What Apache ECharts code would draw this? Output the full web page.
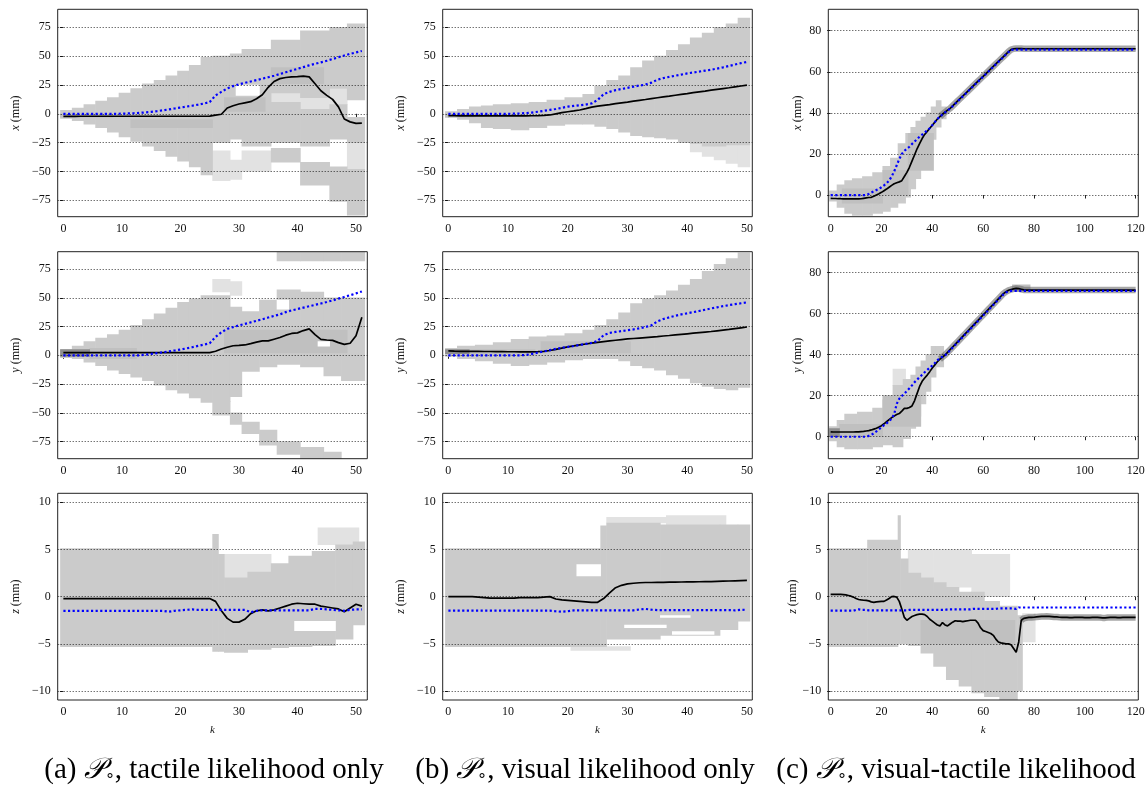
<!DOCTYPE html>
<html>
<head>
<meta charset="utf-8">
<script src="https://cdn.jsdelivr.net/npm/echarts@6/dist/echarts.min.js"></script>
<style>
  html, body { margin: 0; padding: 0; background: #ffffff; }
  #chart { width: 1147px; height: 788px; }
</style>
</head>
<body>
<div id="chart"></div>
<script>
// ---- tick labels -------------------------------------------------------
const kTicksShort = [0, 10, 20, 30, 40, 50];
const kTicksLong = [0, 20, 40, 60, 80, 100, 120];
const posTicksWide = [-75, -50, -25, 0, 25, 50, 75];
const posTicksCombined = [0, 20, 40, 60, 80];
const zTicks = [-10, -5, 0, 5, 10];

// ---- (a) tactile likelihood only, k = 0..51 ----------------------------
const xMeanTactile = [-2.2,-2.2,-2.2,-2.1,-2.1,-2.1,-2.1,-2.1,-2.1,-2.1,-2.1,-2.1,-2.1,-2.1,-2.1,-2.1,-2.1,-2.1,-2.1,-2.1,-2.1,-2.1,-2.1,-2.1,-2.1,-2.0,
  -1.2,-0.4,5,7,8.5,9.5,10.5,13,16.5,23,28,30.5,31.5,32,32.3,32.7,32,26,20,16,12.5,6,-4.5,-7,-8.3,-8.1];
const xTruthTactile = [0,0,0,0,0,0,0,0,0,0,0.1,0.3,0.5,0.8,1.2,1.7,2.3,3,3.8,4.6,5.4,6.2,7,7.9,8.9,10.2,
  16,19,22,24,25.5,26.8,28,29.2,30.5,31.7,33,34.5,36,37.5,39,40.5,42,43.3,44.6,46,47.5,49,50.5,52,53.2,54.5];
const yMeanTactile = [2.3,2.3,2.3,2.3,2.3,2.3,2.3,2.3,2.3,2.3,2.3,2.3,2.3,2.3,2.3,2.3,2.3,2.3,2.3,2.3,2.3,2.3,2.3,2.3,2.3,2.3,
  3.5,5.5,7,8.3,8.6,9,10.2,11.5,12.5,12.5,14,15.5,17.5,19,19.5,21.5,23,18,13.8,13.3,13,11,9.5,10.5,17,33];
const yTruthTactile = [0,0,0,0,0,0,0,0,0,0,0,0,0,0,0.5,1.2,1.9,2.6,3.4,4.2,5,6,7,8.2,9.3,10.5,
  16,20,23,24.5,26,27.3,28.6,30,31.3,32.8,34.2,35.6,37.5,39,40.2,41.4,42.6,43.8,45,46.3,47.7,49.2,50.7,52.2,53.8,55.5];
const zMeanTactile = [-0.2,-0.2,-0.2,-0.2,-0.2,-0.2,-0.2,-0.2,-0.2,-0.2,-0.2,-0.2,-0.2,-0.2,-0.2,-0.2,-0.2,-0.2,-0.2,-0.2,-0.2,-0.2,-0.2,-0.2,-0.2,-0.2,
  -0.5,-1.5,-2.3,-2.7,-2.7,-2.4,-1.8,-1.5,-1.4,-1.5,-1.4,-1.2,-1.0,-0.8,-0.7,-0.75,-0.8,-0.8,-1.0,-1.1,-1.2,-1.3,-1.6,-1.2,-0.8,-1.0];
const zTruthTactile = [-1.5,-1.5,-1.5,-1.5,-1.5,-1.5,-1.5,-1.5,-1.5,-1.5,-1.5,-1.5,-1.5,-1.5,-1.5,-1.5,-1.5,-1.5,
  -1.6,-1.5,-1.45,-1.4,-1.35,-1.4,-1.4,-1.4,-1.4,-1.4,-1.4,-1.4,-1.4,-1.4,-1.65,-1.5,
  -1.45,-1.45,-1.45,-1.45,-1.45,-1.45,-1.45,-1.45,-1.45,-1.3,-1.3,-1.35,-1.4,-1.45,-1.5,-1.4,-1.35,-1.35];

// ---- (b) visual likelihood only, k = 0..50 -----------------------------
const xMeanVisual = [-1.7,-1.7,-1.8,-1.8,-1.8,-1.8,-1.8,-1.8,-1.8,-1.8,-1.8,-1.8,-1.8,-1.8,-1.7,
  -1.6,-1.4,-1.0,0,1,1.8,2.5,3.3,4.5,5.8,6.6,
  7.3,8.0,8.8,9.5,10.2,11.0,11.7,12.4,13.2,13.9,14.6,15.3,16.1,16.8,17.5,18.3,19,19.7,20.5,21.2,21.9,22.6,23.4,24.1,24.8];
const xTruthVisual = [0,0,0,0,0,0,0,0,0,0,0,
  0.1,0.3,0.6,1.1,1.8,2.6,3.4,4.2,5.2,6.2,6.8,7.4,8.0,9,12,17,19,20.5,21.5,22.5,23.5,24.5,25.3,27,29.5,
  31,32,33,34,35,35.8,36.6,37.4,38.2,39.2,40.3,41.5,42.7,43.9,45];
const yMeanVisual = [3.8,3.6,3.5,3.5,3.4,3.4,3.3,3.3,3.2,3.2,3.1,3.1,3.0,3.0,3.0,
  3.2,3.5,4.2,5.2,6.3,7.3,8.2,9,9.8,10.6,11.3,
  11.9,12.5,13.1,13.7,14.2,14.6,15.0,15.4,15.8,16.2,16.8,17.2,17.7,18.2,18.7,19.2,19.7,20.2,20.7,21.3,21.9,22.5,23.2,23.9,24.6];
const yTruthVisual = [0,0,0,0,0,0,0,0,0,0,0,0,0,
  0.3,1.2,2.4,3.4,4.5,5.6,6.5,7.3,8.1,9,9.9,10.8,12.5,
  17.5,19.5,20.3,21,21.8,22.5,23.5,24.6,26,29.5,31.5,33,34.3,35.5,36.5,37.5,38.5,39.6,40.7,41.7,42.7,43.6,44.4,45.2,46];
const zMeanVisual = [0,0,0,0,0,-0.05,-0.1,-0.15,-0.15,-0.15,-0.15,-0.15,-0.1,-0.1,-0.1,-0.1,-0.05,0,
  -0.25,-0.35,-0.4,-0.45,-0.5,-0.55,-0.6,-0.6,-0.2,
  0.4,0.95,1.2,1.35,1.42,1.47,1.5,1.5,1.52,1.52,1.53,1.54,1.55,1.56,1.57,1.58,1.59,1.6,1.62,1.64,1.66,1.68,1.7,1.72];
const zTruthVisual = [-1.48,-1.48,-1.48,-1.48,-1.48,-1.48,-1.48,-1.48,-1.48,-1.48,-1.48,-1.48,-1.48,-1.48,-1.48,-1.48,-1.48,-1.48,
  -1.55,-1.6,-1.55,-1.45,-1.45,-1.45,-1.45,-1.45,-1.45,-1.45,-1.45,-1.45,-1.45,-1.45,
  -1.35,-1.3,-1.38,-1.42,-1.42,-1.42,-1.42,-1.42,-1.42,-1.42,-1.42,-1.42,-1.42,-1.42,-1.42,-1.42,-1.45,-1.4,-1.38];

// ---- (c) visual-tactile likelihood, k = 0..120 -------------------------
const xMeanCombined = [-1.6,-1.7,-1.7,-1.8,-1.8,-1.9,-1.9,-1.9,-1.9,-1.9,-1.9,-1.9,-1.8,-1.6,-1.4,-1.2,
  -1.1,-0.6,0,0.6,1.3,2.1,2.9,3.8,4.7,5.5,6,6.4,7,9,11,13.5,16.5,19.5,22.5,25,27.5,29.5,31,32.5,34,35.5,37,38.2,39.3,40.3,41.3,42.2,
  43.4,44.6,45.8,47,48.2,49.4,50.6,51.8,53,54.2,55.4,56.6,57.8,59,60.2,61.4,62.6,63.8,65,66.2,67.4,68.6,69.8,70.8,
  71.2,71.3,71.3,71.3,71.2,71.2,71.2,71.2,71.2,71.2,71.2,71.2,71.2,71.2,71.2,71.2,71.2,71.2,71.2,71.2,
  71.2,71.2,71.2,71.2,71.2,71.2,71.2,71.2,71.2,71.2,71.2,71.2,71.2,71.2,71.2,71.2,71.2,71.2,71.2,71.2,
  71.2,71.2,71.2,71.2,71.2,71.2,71.2,71.2,71.2];
const xTruthCombined = [0,0,0,0,0,0,0,0,0,0,0,0,0,0,0,
  0.5,1.2,1.8,2.4,3,3.8,4.7,5.7,7,9,11.5,14.5,17.5,20,21.5,22.5,23.5,24.8,26,27.2,28.4,29.4,30.4,31.5,32.5,34,35.5,37,38.2,
  39.2,40.2,41.1,42,43.2,44.4,45.6,46.8,48,49.2,50.4,51.6,52.8,54,55.2,56.4,57.6,58.8,60,61.2,62.4,63.6,64.8,66,67.2,68.4,69.6,70.6,
  70.8,70.8,70.8,70.8,70.8,70.8,70.8,70.8,70.8,70.8,70.8,70.8,70.8,70.8,70.8,70.8,70.8,70.8,70.8,70.8,
  70.8,70.8,70.8,70.8,70.8,70.8,70.8,70.8,70.8,70.8,70.8,70.8,70.8,70.8,70.8,70.8,70.8,70.8,70.8,70.8,
  70.8,70.8,70.8,70.8,70.8,70.8,70.8,70.8,70.8];
const yMeanCombined = [2.4,2.3,2.3,2.3,2.3,2.3,2.3,2.3,2.3,2.3,2.4,2.4,2.5,
  2.6,2.8,3.0,3.3,3.7,4.1,4.7,5.4,6.3,7.3,8.3,9.3,10.1,10.8,11.3,12.5,13.8,13.8,14.2,15,17.5,21,24.5,27,28.6,30,31.7,33.5,35,36.5,37.8,38.8,39.8,
  41.1,42.4,43.7,45,46.3,47.6,48.9,50.2,51.5,52.8,54.1,55.4,56.7,58,59.3,60.6,61.9,63.2,64.5,65.8,67.1,68.4,69.7,70.6,71.3,71.7,72,72.2,72.1,71.8,71.5,
  71.4,71.4,71.4,71.4,71.4,71.4,71.4,71.4,71.4,71.4,71.4,71.4,71.4,71.4,71.4,71.4,71.4,71.4,71.4,71.4,71.4,71.4,
  71.4,71.4,71.4,71.4,71.4,71.4,71.4,71.4,71.4,71.4,71.4,71.4,71.4,71.4,71.4,71.4,71.4,71.4,71.4,71.4,71.4,71.4];
const yTruthCombined = [0,0,0,0,0,0,0,0,0,0,0,0,0,0,0,
  0.4,0.9,1.7,2.6,3.6,4.6,5.6,6.5,7.6,8.8,11,16,18.5,19.8,21,22.3,23.6,25,26.5,27.8,29,30.2,31.4,32.5,33.6,34.7,35.9,37.2,38.3,
  38.9,39.6,40.8,42.1,43.4,44.7,46,47.3,48.6,49.9,51.2,52.5,53.8,55.1,56.4,57.7,59,60.3,61.6,62.9,64.2,65.5,66.8,68.1,69.3,70.3,
  70.8,71,71,71,71,71,71,71,71,71,71,71,71,71,71,71,71,71,71,71,71,71,71,71,71,
  71,71,71,71,71,71,71,71,71,71,71,71,71,71,71,71,71,71,71,71,71,71,71,71,71,71];
const zMeanCombined = [0.25,0.25,0.25,0.25,0.25,0.22,0.18,0.12,0.05,-0.05,-0.2,-0.3,-0.35,-0.38,-0.4,-0.45,-0.55,-0.6,-0.55,-0.52,-0.5,-0.5,-0.35,-0.2,0,0.02,-0.05,
  -0.5,-1.3,-2.2,-2.5,-2.3,-2.1,-2.0,-1.9,-1.85,-1.85,-1.9,-2.1,-2.4,-2.6,-2.8,-3.0,-3.1,-2.75,-3.0,-3.1,-2.9,-2.7,-2.55,-2.6,
  -2.6,-2.65,-2.6,-2.55,-2.5,-2.5,-2.5,-2.8,-3.3,-3.6,-3.7,-3.8,-3.9,-4.1,-4.5,-4.8,-4.9,-4.95,-5.0,-5.0,-5.1,-5.5,-5.9,-4.8,-2.5,-2.3,-2.25,
  -2.2,-2.2,-2.18,-2.15,-2.12,-2.1,-2.1,-2.08,-2.1,-2.12,-2.15,-2.15,-2.18,-2.2,-2.2,-2.2,-2.22,-2.22,-2.2,-2.2,-2.2,-2.2,
  -2.22,-2.22,-2.22,-2.2,-2.2,-2.2,-2.22,-2.25,-2.25,-2.22,-2.2,-2.2,-2.2,-2.22,-2.22,-2.2,-2.2,-2.2,-2.2,-2.2,-2.2];
const zTruthCombined = [-1.48,-1.48,-1.48,-1.48,-1.48,-1.48,-1.48,-1.48,-1.48,-1.48,-1.4,-1.35,-1.4,-1.4,-1.4,
  -1.45,-1.45,-1.45,-1.45,-1.45,-1.45,-1.45,-1.45,-1.45,-1.45,-1.45,-1.45,-1.45,-1.45,-1.45,-1.45,
  -1.4,-1.4,-1.4,-1.4,-1.4,-1.4,-1.4,-1.4,-1.4,-1.4,-1.4,-1.4,-1.4,-1.4,-1.4,
  -1.35,-1.35,-1.35,-1.35,-1.35,-1.35,-1.35,-1.35,-1.35,-1.35,
  -1.3,-1.3,-1.3,-1.3,-1.3,-1.3,-1.3,-1.3,-1.3,-1.3,
  -1.25,-1.25,-1.25,-1.25,-1.25,-1.25,-1.25,-1.3,
  -1.15,-1.15,-1.15,-1.15,-1.15,-1.15,-1.15,-1.15,-1.15,-1.15,-1.15,-1.15,-1.15,-1.15,-1.15,-1.15,
  -1.15,-1.15,-1.15,-1.15,-1.15,-1.15,-1.15,-1.15,-1.15,-1.15,-1.15,-1.15,-1.15,-1.15,-1.15,-1.15,
  -1.15,-1.15,-1.15,-1.15,-1.15,-1.15,-1.15,-1.15,-1.15,-1.15,-1.15,-1.15,-1.15,-1.15,-1.15];

// ---- particle-density cells: [kFrom, kTo, low, high, shade] ---------------
// shade: 0 light, 1 medium, 2 dark, 3 sparse, 4 empty
const xCellsTactile = [
  [0,1,-4,3,0],[2,3,-6,5,0],[4,5,-9,8,0],[6,7,-12,11,0],[8,9,-16,14,0],[10,11,-20,18,0],[12,13,-24,22,0],
  [14,15,-28,26,0],[16,17,-32,29,0],[18,19,-37,33,0],[20,21,-41,37,0],[22,23,-46,42,0],[24,25,-53,49,0],
  [26,28,-58,-32,3],[26,28,-25,50,0],[29,30,-57,-40,3],[29,30,-22,52,0],
  [31,35,-28,56,0],[31,35,-50,-32,3],
  [36,40,18,64,0],[36,40,-25,10,0],[36,40,-42,-30,0],[36,40,10,18,3],
  [41,45,14,72,0],[41,45,-28,4,0],[41,45,-62,-42,0],[41,45,4,14,3],
  [46,48,22,75,0],[46,48,-22,8,0],[46,48,-76,-46,0],[46,48,8,22,3],
  [49,51,12,78,0],[49,51,-25,-3,0],[49,51,-88,-48,0],[49,51,-48,-25,3],
  [0,8,-3,0,1],[12,25,-12,-5,1],[28,34,2,14,1],[36,44,26,40,1],
  [30,33,16,25,4]
];
const yCellsTactile = [
  [0,1,-2,5,0],[2,3,-3,8,0],[4,5,-6,12,0],[6,7,-9,15,0],[8,9,-13,18,0],[10,11,-16,22,0],[12,13,-19,26,0],
  [14,15,-22,31,0],[16,17,-26,36,0],[18,19,-30,41,0],[20,21,-33,46,0],[22,23,-37,49,0],[24,25,-41,52,0],
  [26,28,-40,52,0],[26,28,-52,-40,0],[26,28,55,66,3],
  [29,30,-36,42,0],[29,30,-60,-50,0],[29,30,52,64,3],
  [31,33,-14,38,0],[31,33,-68,-58,0],
  [34,36,-10,48,0],[34,36,-78,-65,0],
  [37,40,-8,57,0],[37,40,-86,-75,0],[37,40,82,90,0],
  [41,44,-10,55,0],[41,44,-90,-80,0],[41,44,82,90,0],
  [45,47,-18,50,0],[45,47,-90,-84,0],[45,47,82,90,0],
  [48,51,-22,50,0],[48,51,82,90,0],
  [0,4,-1,5,2],[5,12,-3,6,1],[28,48,2,22,1],
  [37,38,40,48,4],[44,45,8,12,4]
];
const zCellsTactile = [
  [0,25,-5.3,5.1,0],[26,26,-5.8,6.6,0],[27,27,-5.8,4.5,0],[28,31,-5.9,2.0,0],[32,35,-5.6,2.6,0],
  [36,38,-5.4,3.5,0],[39,42,-5.3,4.3,0],[43,46,-5.2,4.8,0],[47,49,-4.5,5.5,0],[50,51,-3,5.8,0],
  [28,35,2,4.5,3],[44,50,5.5,7.3,3],
  [40,46,-3.6,-2.6,4]
];
const xCellsVisual = [
  [0,1,-3,2,0],[2,3,-5,4,0],[4,5,-8,6,0],[6,7,-12,7,0],[8,10,-13,8,0],[11,13,-14,9,0],[14,16,-12,10,0],
  [17,19,-10,12,0],[20,22,-9,14,0],[23,24,-9,17,0],[25,26,-11,24,0],[27,28,-13,29,0],[29,30,-16,33,0],
  [31,32,-19,40,0],[33,34,-20,46,0],[35,36,-21,50,0],[37,38,-22,55,0],[39,40,-25,60,0],
  [41,42,-26,66,0],[41,42,-33,-26,3],[43,44,-28,70,0],[43,44,-37,-28,3],[45,46,-28,75,0],[45,46,-40,-28,3],
  [47,48,-27,78,0],[47,48,-43,-27,3],[49,50,-27,83,0],[49,50,-46,-27,3],
  [0,4,-3,0,1]
];
const yCellsVisual = [
  [0,1,-1,6,0],[2,4,-3,8,0],[5,7,-5,9,0],[8,10,-7,11,0],[11,13,-9,14,0],[14,16,-8,16,0],[17,19,-6,17,0],
  [20,22,-4,19,0],[23,24,-3,22,0],[25,26,-3,26,0],[27,28,-3,31,0],[29,30,-5,37,0],[31,32,-9,45,0],
  [33,34,-11,49,0],[35,36,-13,52,0],[37,38,-17,56,0],[39,40,-20,61,0],[41,42,-24,66,0],[43,44,-27,73,0],
  [45,46,-29,79,0],[47,48,-30,84,0],[49,50,-28,89,0],
  [0,3,1.5,5,2],[4,14,0,5,1],[16,30,2,12,1]
];
const zCellsVisual = [
  [0,25,-5.3,5.1,0],[26,26,-5.3,7.5,0],[27,35,-4.5,7.8,0],[36,45,-4.1,7.6,0],[46,48,-3.5,7.6,0],[49,50,-2.6,7.6,0],
  [21,30,-5.7,-5.3,3],[27,36,7.8,8.4,3],[37,46,7.6,8.6,3],
  [22,25,2.2,3.4,4],[30,36,-3.3,-3.0,4],[38,44,-4.0,-3.7,4],[36,40,-2.2,-2.0,4]
];
const xCellsCombined = [
  [0,2,-3,2,0],[3,5,-6,5,0],[6,8,-9,7,0],[9,12,-10,8,0],[13,16,-10,9,0],[17,20,-9,11,0],[21,23,-8,14,0],
  [24,26,-6,18,0],[27,29,-4,25,0],[30,31,-1,30,0],[32,33,3,33,0],[34,35,8,36,0],[36,37,13,38,0],
  [38,39,20,40,0],[40,41,27,43,0],[42,43,33,46,0],[44,45,37,43,0],
  [5,20,-4,3,1],[21,30,0,12,1],[31,40,12,30,1]
];
const yCellsCombined = [
  [0,2,-2,5,0],[3,5,-5,8,0],[6,10,-6,11,0],[11,16,-6,12,0],[17,20,-5,14,0],[21,24,-4,18,0],[25,28,-5,25,0],
  [29,31,-1,28,0],[32,33,4,30,0],[34,35,10,34,0],[36,37,16,37,0],[38,39,22,40,0],[40,41,29,44,0],[42,44,34,44,0],
  [25,29,25,33,3],
  [0,3,0,4,2],[4,20,0,6,1],[21,35,5,20,1],[72,78,71,74,1]
];
const zCellsCombined = [
  [0,14,-5.3,5.1,0],[15,26,-5.3,6,0],[27,27,-5,8.6,0],[28,30,-5,4,0],[31,35,-5.2,2.5,0],[36,40,-6,2,0],
  [41,45,-7.4,1.5,0],[46,50,-8.8,1.0,0],[51,55,-9.5,0.5,0],[56,60,-10.2,0.5,0],[61,66,-10.6,-0.5,0],
  [67,73,-11,-1,0],[74,75,-10,-2,0],
  [31,40,2,5,3],[41,55,1,5,3],[56,70,0,4.5,3],[76,80,-4.8,-1.8,3],
  [36,72,-5,-2.5,1]
];

// ---- layout ------------------------------------------------------------
const LEFT = [57.7, 442.7, 828.3], WIDTH = [309.6, 309.6, 310];
const TOP = [9.3, 251.7, 493.3], HEIGHT = [207.4, 207, 206.7];
const X_RANGE = [[-0.97, 51.93], [-0.95, 50.9], [-0.92, 121.05]];
const X_TICKS = [kTicksShort, kTicksShort, kTicksLong];
const SHADE = ['#cbcbcb', '#c0c0c0', '#8e8e8e', '#e2e2e2', '#ffffff'];
const DRAW_ORDER = {3: 0, 0: 1, 1: 2, 2: 3, 4: 4};
const TICK_FONT = 'Liberation Serif';

const panels = [
  {row:0, col:0, mean:xMeanTactile,  truth:xTruthTactile,  cells:xCellsTactile,  axis:'x', yTicks:posTicksWide,     yRange:[-89.2, 90.6]},
  {row:0, col:1, mean:xMeanVisual,   truth:xTruthVisual,   cells:xCellsVisual,   axis:'x', yTicks:posTicksWide,     yRange:[-89.2, 90.6]},
  {row:0, col:2, mean:xMeanCombined, truth:xTruthCombined, cells:xCellsCombined, axis:'x', yTicks:posTicksCombined, yRange:[-10.55, 90.4], haloFrom:43},
  {row:1, col:0, mean:yMeanTactile,  truth:yTruthTactile,  cells:yCellsTactile,  axis:'y', yTicks:posTicksWide,     yRange:[-89.8, 90]},
  {row:1, col:1, mean:yMeanVisual,   truth:yTruthVisual,   cells:yCellsVisual,   axis:'y', yTicks:posTicksWide,     yRange:[-89.8, 90]},
  {row:1, col:2, mean:yMeanCombined, truth:yTruthCombined, cells:yCellsCombined, axis:'y', yTicks:posTicksCombined, yRange:[-10.7, 90.1], haloFrom:43},
  {row:2, col:0, mean:zMeanTactile,  truth:zTruthTactile,  cells:zCellsTactile,  axis:'z', yTicks:zTicks,           yRange:[-10.95, 10.95]},
  {row:2, col:1, mean:zMeanVisual,   truth:zTruthVisual,   cells:zCellsVisual,   axis:'z', yTicks:zTicks,           yRange:[-10.95, 10.95]},
  {row:2, col:2, mean:zMeanCombined, truth:zTruthCombined, cells:zCellsCombined, axis:'z', yTicks:zTicks,           yRange:[-10.95, 10.95], haloFrom:75}
];

const fmt = v => String(v).replace('-', '\u2212');

const grids = [], xAxes = [], yAxes = [], series = [], frames = [];
panels.forEach((p, i) => {
  grids.push({left: LEFT[p.col], top: TOP[p.row], width: WIDTH[p.col], height: HEIGHT[p.row],
              containLabel: false, outerBoundsMode: 'none'});
  xAxes.push({
    type: 'value', gridIndex: i, min: X_RANGE[p.col][0], max: X_RANGE[p.col][1],
    axisLine: {show: false}, splitLine: {show: false},
    axisTick: {show: true, customValues: X_TICKS[p.col], length: 3.5, lineStyle: {color: '#222', width: 1}},
    axisLabel: {customValues: X_TICKS[p.col], formatter: fmt, margin: 6, fontFamily: TICK_FONT, fontSize: 12, color: '#111'},
    name: p.row === 2 ? 'k' : '', nameLocation: 'middle', nameGap: 25,
    nameTextStyle: {fontFamily: TICK_FONT, fontStyle: 'italic', fontSize: 11, color: '#111'}
  });
  yAxes.push({
    type: 'value', gridIndex: i, min: p.yRange[0], max: p.yRange[1],
    axisLine: {show: false}, splitLine: {show: false},
    axisTick: {show: true, customValues: p.yTicks, length: 3.5, lineStyle: {color: '#222', width: 1}},
    axisLabel: {customValues: p.yTicks, formatter: fmt, margin: 7, fontFamily: TICK_FONT, fontSize: 12, color: '#111'},
    name: '{i|' + p.axis + '} (mm)', nameLocation: 'middle', nameRotate: 90,
    nameGap: p.col === 2 ? 24 : 36,
    nameTextStyle: {fontFamily: TICK_FONT, fontSize: 12, color: '#111',
                    rich: {i: {fontFamily: TICK_FONT, fontStyle: 'italic', fontSize: 12, color: '#111'}}}
  });

  const cells = p.cells.slice().sort((a, b) => DRAW_ORDER[a[4]] - DRAW_ORDER[b[4]]);
  series.push({
    type: 'custom', xAxisIndex: i, yAxisIndex: i, z: 1, clip: true, silent: true,
    data: cells,
    encode: {x: [0, 1], y: [2, 3]},
    renderItem: (params, api) => {
      const a = api.coord([api.value(0) - 0.5, api.value(3)]);
      const b = api.coord([api.value(1) + 0.5, api.value(2)]);
      return {type: 'rect',
              shape: {x: a[0] - 0.3, y: a[1] - 0.3, width: b[0] - a[0] + 0.6, height: b[1] - a[1] + 0.6},
              style: {fill: SHADE[api.value(4)]}};
    }
  });
  if (p.haloFrom !== undefined) {
    series.push({
      type: 'line', xAxisIndex: i, yAxisIndex: i, z: 2, silent: true, showSymbol: false,
      data: p.mean.map((v, k) => [k, k >= p.haloFrom ? v : null]),
      lineStyle: {color: 'rgba(95,95,95,0.55)', width: 6.5}
    });
  }
  series.push({
    type: 'line', xAxisIndex: i, yAxisIndex: i, z: 3, silent: true, data: [],
    markLine: {silent: true, symbol: ['none', 'none'], label: {show: false}, animation: false,
               lineStyle: {color: '#000', width: 0.8, type: [1, 2]},
               data: p.yTicks.map(v => ({yAxis: v}))}
  });
  series.push({
    type: 'line', xAxisIndex: i, yAxisIndex: i, z: 4, silent: true, showSymbol: false,
    data: p.mean.map((v, k) => [k, v]),
    lineStyle: {color: '#000', width: 1.7}
  });
  series.push({
    type: 'line', xAxisIndex: i, yAxisIndex: i, z: 5, silent: true, showSymbol: false,
    data: p.truth.map((v, k) => [k, v]),
    lineStyle: {color: '#0000ff', width: 2.2, type: [2.2, 2.4], cap: 'butt'}
  });
  frames.push({type: 'rect', z: 100, silent: true,
               shape: {x: LEFT[p.col], y: TOP[p.row], width: WIDTH[p.col], height: HEIGHT[p.row]},
               style: {fill: 'none', stroke: '#222', lineWidth: 1}});
});

// sub-figure captions, centred under each column
const captionRich = {
  p: {fontFamily: 'Liberation Serif', fontSize: 29, fontStyle: 'italic', fill: '#000'},
  s: {fontFamily: 'Liberation Serif', fontSize: 16, fill: '#000', padding: [14, 0, 0, 0]}
};
const captions = [
  {cx: 214, text: '(a) {p|\uD835\uDCAB}{s|\u2218}, tactile likelihood only'},
  {cx: 585, text: '(b) {p|\uD835\uDCAB}{s|\u2218}, visual likelihood only'},
  {cx: 956, text: '(c) {p|\uD835\uDCAB}{s|\u2218}, visual-tactile likelihood'}
];
captions.forEach(c => frames.push({
  type: 'text', x: c.cx, y: 755, z: 100, silent: true,
  style: {text: c.text, rich: captionRich, font: '29px "Liberation Serif"', fill: '#000', align: 'center', verticalAlign: 'top'}
}));

const chart = echarts.init(document.getElementById('chart'), null, {renderer: 'canvas'});
chart.setOption({
  animation: false,
  backgroundColor: '#ffffff',
  grid: grids, xAxis: xAxes, yAxis: yAxes, series: series,
  graphic: {elements: frames}
});
</script>
</body>
</html>
